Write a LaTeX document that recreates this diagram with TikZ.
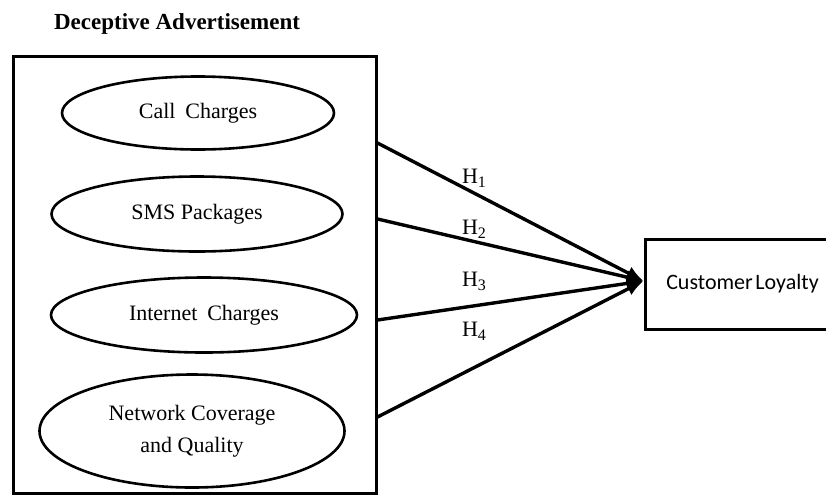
\documentclass[tikz,border=0pt]{standalone}
\usepackage{fontspec}
\setmainfont{Liberation Serif}
\newfontfamily\calibrifont{Carlito}
\usetikzlibrary{arrows.meta,shapes.geometric}
\newcommand{\hsub}[1]{\raisebox{-0.18em}{\fontsize{16}{16}\selectfont #1}}
\begin{document}
\begin{tikzpicture}[x=1pt,y=-1pt,
  ell/.style={draw, ellipse, line width=2.6pt, inner sep=0pt, font=\fontsize{22}{32}\selectfont, align=center},
  grp/.style={draw, rectangle, line width=3pt, inner sep=0pt},
  outbox/.style={draw, rectangle, line width=3pt, inner sep=0pt, font=\calibrifont\fontsize{22}{26}\selectfont},
  arr/.style={line width=3.4pt, -{Latex[length=17pt,width=14pt]}},
  hlab/.style={font=\fontsize{22}{24}\selectfont, inner sep=0pt}
]
\clip (0,0) rectangle (826,496);
\useasboundingbox (0,0) rectangle (826,496);
\node[font=\bfseries\fontsize{23}{28}\selectfont] (title) at (177,24) {Deceptive Advertisement};
\node[grp, minimum width=363pt, minimum height=437pt] (box) at (194.5,274.5) {};
\node[ell, minimum width=272pt, minimum height=73pt] (e1) at (198,113) {Call\hspace{0.45em}Charges};
\node[ell, minimum width=291pt, minimum height=75pt] (e2) at (197,214) {SMS Packages};
\node[ell, minimum width=306pt, minimum height=75pt] (e3) at (204,315) {Internet\hspace{0.45em}Charges};
\node[ell, minimum width=305pt, minimum height=113pt] (e4) at (192,431) {Network Coverage\\and Quality};
\node[outbox, minimum width=195pt, minimum height=90pt] (cl) at (742.5,284) {Customer\hspace{0.12em}Loyalty};
\coordinate (s1) at (box.east |- 0,143);
\coordinate (s2) at (box.east |- 0,219);
\coordinate (s3) at (box.east |- 0,320);
\coordinate (s4) at (box.east |- 0,417);
\draw[arr] (s1) -- ([yshift=3pt]cl.west);
\draw[arr] (s2) -- ([yshift=3pt]cl.west);
\draw[arr] (s3) -- ([yshift=3pt]cl.west);
\draw[arr] (s4) -- ([yshift=3pt]cl.west);
\node[hlab] (h1) at (474,178) {H\hsub{1}};
\node[hlab] (h2) at (474,229) {H\hsub{2}};
\node[hlab] (h3) at (474,281) {H\hsub{3}};
\node[hlab] (h4) at (474,331) {H\hsub{4}};
\end{tikzpicture}
\end{document}
